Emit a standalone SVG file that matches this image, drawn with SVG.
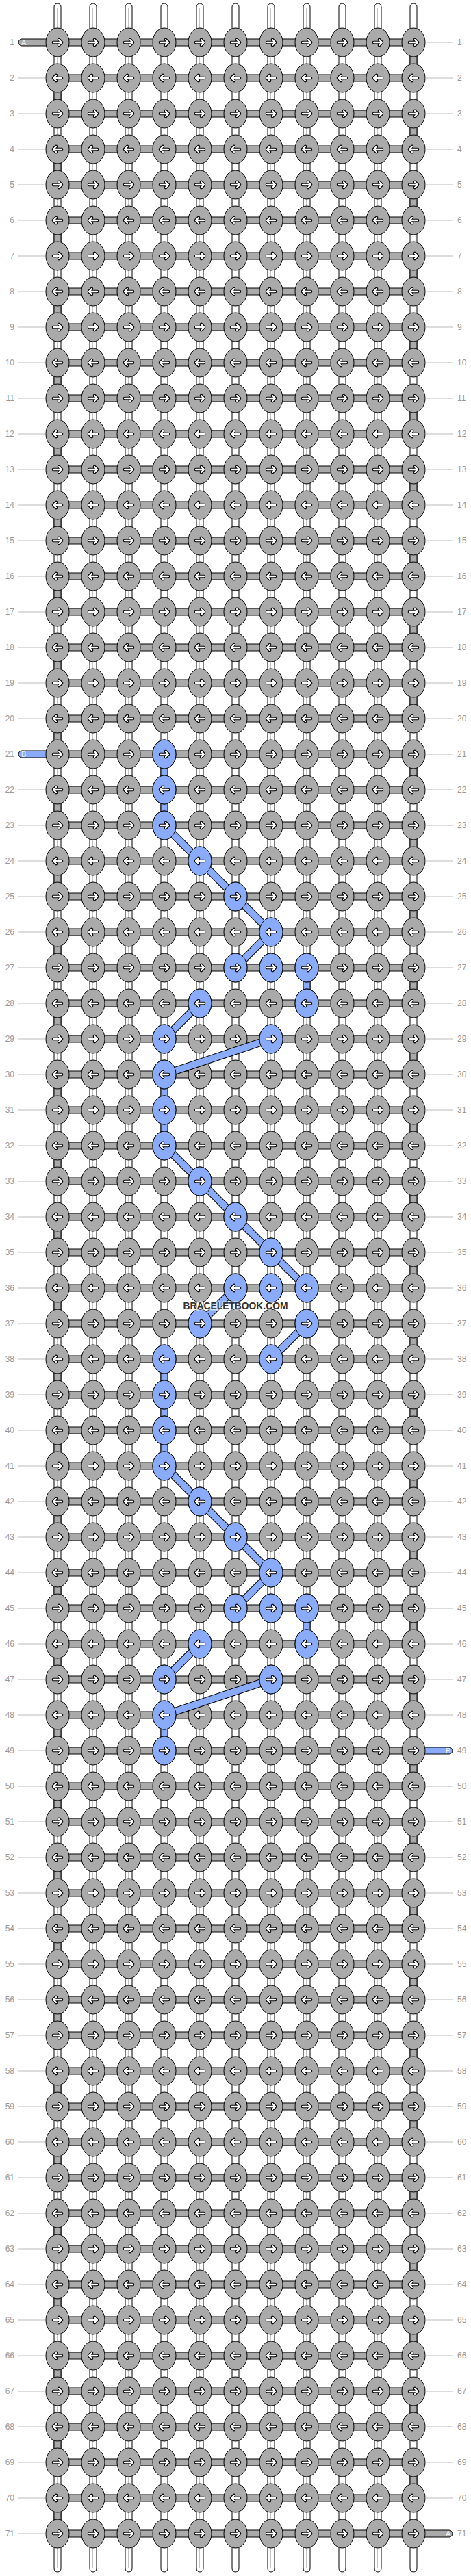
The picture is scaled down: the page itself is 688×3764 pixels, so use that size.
<svg xmlns="http://www.w3.org/2000/svg" width="688" height="3764" viewBox="0 0 688 3764">
<style>
.st{fill:#fff;stroke:#000;stroke-width:1}
.sl{fill:none;stroke:#c4c4c4;stroke-width:1}
.bar{fill:#aaa;stroke:#000;stroke-width:1}
.blu{fill:#8aabfa;stroke:#000;stroke-width:1}
text{font-family:"Liberation Sans",Arial,sans-serif}
.lab{font-size:12px;fill:#999}
.le{text-anchor:end}
.tl{fill:none;stroke:#bbb;stroke-width:1}
.ld{font-size:11px;fill:#f2f2f2}
</style>
<defs>
<g id="KR"><ellipse rx="17" ry="21" stroke="#000" stroke-width="1"/><path d="M-6 0H6M2-4L6 0L2 4" fill="none" stroke="#000" stroke-width="4.6" stroke-linecap="round" stroke-linejoin="round"/><path d="M-6 0H6M2-4L6 0L2 4" fill="none" stroke="#fff" stroke-width="2.3" stroke-linecap="round" stroke-linejoin="round"/></g>
<g id="KL"><ellipse rx="17" ry="21" stroke="#000" stroke-width="1"/><path d="M6 0H-6M-2-4L-6 0L-2 4" fill="none" stroke="#000" stroke-width="4.6" stroke-linecap="round" stroke-linejoin="round"/><path d="M6 0H-6M-2-4L-6 0L-2 4" fill="none" stroke="#fff" stroke-width="2.3" stroke-linecap="round" stroke-linejoin="round"/></g>
<g id="RR" fill="#aaa"><rect class="bar" x="84" y="-5" width="520" height="10"/><use href="#KR" x="84"/><use href="#KR" x="136"/><use href="#KR" x="188"/><use href="#KR" x="240"/><use href="#KR" x="292"/><use href="#KR" x="344"/><use href="#KR" x="396"/><use href="#KR" x="448"/><use href="#KR" x="500"/><use href="#KR" x="552"/><use href="#KR" x="604"/></g>
<g id="RL" fill="#aaa"><rect class="bar" x="84" y="-5" width="520" height="10"/><use href="#KL" x="84"/><use href="#KL" x="136"/><use href="#KL" x="188"/><use href="#KL" x="240"/><use href="#KL" x="292"/><use href="#KL" x="344"/><use href="#KL" x="396"/><use href="#KL" x="448"/><use href="#KL" x="500"/><use href="#KL" x="552"/><use href="#KL" x="604"/></g>
<path id="dg" d="M240 1206L292 1258M292 1258L344 1310M344 1310L396 1362M396 1362L344 1414M292 1466L240 1518M396 1518L240 1570M240 1674L292 1726M292 1726L344 1778M344 1778L396 1830M396 1830L448 1882M344 1882L292 1934M448 1934L396 1986M240 2142L292 2194M292 2194L344 2246M344 2246L396 2298M396 2298L344 2350M292 2402L240 2454M396 2454L240 2506" fill="none"/>
</defs>
<rect width="688" height="3764" fill="#fff"/>
<g id="strands">
<rect class="st" x="79" y="5" width="10" height="3753" rx="5"/>
<rect class="st" x="131" y="5" width="10" height="3753" rx="5"/>
<rect class="st" x="183" y="5" width="10" height="3753" rx="5"/>
<rect class="st" x="235" y="5" width="10" height="3753" rx="5"/>
<rect class="st" x="287" y="5" width="10" height="3753" rx="5"/>
<rect class="st" x="339" y="5" width="10" height="3753" rx="5"/>
<rect class="st" x="391" y="5" width="10" height="3753" rx="5"/>
<rect class="st" x="443" y="5" width="10" height="3753" rx="5"/>
<rect class="st" x="495" y="5" width="10" height="3753" rx="5"/>
<rect class="st" x="547" y="5" width="10" height="3753" rx="5"/>
<rect class="st" x="599" y="5" width="10" height="3753" rx="5"/>
<path class="sl" d="M83.5 11V3752M135.5 11V3752M187.5 11V3752M239.5 11V3752M291.5 11V3752M343.5 11V3752M395.5 11V3752M447.5 11V3752M499.5 11V3752M551.5 11V3752M603.5 11V3752"/>
</g>
<g id="connectors">
<path class="bar" d="M599 62h10v52h-10zM599 166h10v52h-10zM599 270h10v52h-10zM599 374h10v52h-10zM599 478h10v52h-10zM599 582h10v52h-10zM599 686h10v52h-10zM599 790h10v52h-10zM599 894h10v52h-10zM599 998h10v52h-10zM599 1102h10v52h-10zM599 1206h10v52h-10zM599 1310h10v52h-10zM599 1414h10v52h-10zM599 1518h10v52h-10zM599 1622h10v52h-10zM599 1726h10v52h-10zM599 1830h10v52h-10zM599 1934h10v52h-10zM599 2038h10v52h-10zM599 2142h10v52h-10zM599 2246h10v52h-10zM599 2350h10v52h-10zM599 2454h10v52h-10zM599 2558h10v52h-10zM599 2662h10v52h-10zM599 2766h10v52h-10zM599 2870h10v52h-10zM599 2974h10v52h-10zM599 3078h10v52h-10zM599 3182h10v52h-10zM599 3286h10v52h-10zM599 3390h10v52h-10zM599 3494h10v52h-10zM599 3598h10v52h-10zM79 114h10v52h-10zM79 218h10v52h-10zM79 322h10v52h-10zM79 426h10v52h-10zM79 530h10v52h-10zM79 634h10v52h-10zM79 738h10v52h-10zM79 842h10v52h-10zM79 946h10v52h-10zM79 1050h10v52h-10zM79 1154h10v52h-10zM79 1258h10v52h-10zM79 1362h10v52h-10zM79 1466h10v52h-10zM79 1570h10v52h-10zM79 1674h10v52h-10zM79 1778h10v52h-10zM79 1882h10v52h-10zM79 1986h10v52h-10zM79 2090h10v52h-10zM79 2194h10v52h-10zM79 2298h10v52h-10zM79 2402h10v52h-10zM79 2506h10v52h-10zM79 2610h10v52h-10zM79 2714h10v52h-10zM79 2818h10v52h-10zM79 2922h10v52h-10zM79 3026h10v52h-10zM79 3130h10v52h-10zM79 3234h10v52h-10zM79 3338h10v52h-10zM79 3442h10v52h-10zM79 3546h10v52h-10zM79 3650h10v52h-10z"/>
<path class="blu" d="M235 1102h10v52h-10zM235 1154h10v52h-10zM443 1414h10v52h-10zM235 1570h10v52h-10zM235 1622h10v52h-10zM235 1986h10v52h-10zM235 2038h10v52h-10zM235 2090h10v52h-10zM443 2350h10v52h-10zM235 2506h10v52h-10z"/>
<rect class="bar" x="27" y="57" width="62" height="10" rx="5"/>
<rect class="blu" x="27" y="1097" width="62" height="10" rx="5"/>
<rect class="blu" x="599" y="2553" width="62" height="10" rx="5"/>
<rect class="bar" x="599" y="3697" width="62" height="10" rx="5"/>
<text class="ld" x="31" y="66">A</text>
<text class="ld" x="31" y="1106">B</text>
<text class="ld" x="651" y="2562">B</text>
<text class="ld" x="651" y="3706">A</text>
</g>
<g id="knots">
<use id="row1" href="#RR" y="62"/><use id="row2" href="#RL" y="114"/><use id="row3" href="#RR" y="166"/><use id="row4" href="#RL" y="218"/><use id="row5" href="#RR" y="270"/><use id="row6" href="#RL" y="322"/><use id="row7" href="#RR" y="374"/><use id="row8" href="#RL" y="426"/><use id="row9" href="#RR" y="478"/><use id="row10" href="#RL" y="530"/>
<use id="row11" href="#RR" y="582"/><use id="row12" href="#RL" y="634"/><use id="row13" href="#RR" y="686"/><use id="row14" href="#RL" y="738"/><use id="row15" href="#RR" y="790"/><use id="row16" href="#RL" y="842"/><use id="row17" href="#RR" y="894"/><use id="row18" href="#RL" y="946"/><use id="row19" href="#RR" y="998"/><use id="row20" href="#RL" y="1050"/>
<use id="row21" href="#RR" y="1102"/><use id="row22" href="#RL" y="1154"/><use id="row23" href="#RR" y="1206"/><use id="row24" href="#RL" y="1258"/><use id="row25" href="#RR" y="1310"/><use id="row26" href="#RL" y="1362"/><use id="row27" href="#RR" y="1414"/><use id="row28" href="#RL" y="1466"/><use id="row29" href="#RR" y="1518"/><use id="row30" href="#RL" y="1570"/>
<use id="row31" href="#RR" y="1622"/><use id="row32" href="#RL" y="1674"/><use id="row33" href="#RR" y="1726"/><use id="row34" href="#RL" y="1778"/><use id="row35" href="#RR" y="1830"/><use id="row36" href="#RL" y="1882"/><use id="row37" href="#RR" y="1934"/><use id="row38" href="#RL" y="1986"/><use id="row39" href="#RR" y="2038"/><use id="row40" href="#RL" y="2090"/>
<use id="row41" href="#RR" y="2142"/><use id="row42" href="#RL" y="2194"/><use id="row43" href="#RR" y="2246"/><use id="row44" href="#RL" y="2298"/><use id="row45" href="#RR" y="2350"/><use id="row46" href="#RL" y="2402"/><use id="row47" href="#RR" y="2454"/><use id="row48" href="#RL" y="2506"/><use id="row49" href="#RR" y="2558"/><use id="row50" href="#RL" y="2610"/>
<use id="row51" href="#RR" y="2662"/><use id="row52" href="#RL" y="2714"/><use id="row53" href="#RR" y="2766"/><use id="row54" href="#RL" y="2818"/><use id="row55" href="#RR" y="2870"/><use id="row56" href="#RL" y="2922"/><use id="row57" href="#RR" y="2974"/><use id="row58" href="#RL" y="3026"/><use id="row59" href="#RR" y="3078"/><use id="row60" href="#RL" y="3130"/>
<use id="row61" href="#RR" y="3182"/><use id="row62" href="#RL" y="3234"/><use id="row63" href="#RR" y="3286"/><use id="row64" href="#RL" y="3338"/><use id="row65" href="#RR" y="3390"/><use id="row66" href="#RL" y="3442"/><use id="row67" href="#RR" y="3494"/><use id="row68" href="#RL" y="3546"/><use id="row69" href="#RR" y="3598"/><use id="row70" href="#RL" y="3650"/>
<use id="row71" href="#RR" y="3702"/>
</g>
<g id="diagonals">
<use href="#dg" stroke="#000" stroke-width="11.5"/>
<use href="#dg" stroke="#8aabfa" stroke-width="9.5"/>
</g>
<g id="blueknots" fill="#8aabfa">
<use id="k21_4" href="#KR" x="240" y="1102"/>
<use id="k22_4" href="#KL" x="240" y="1154"/>
<use id="k23_4" href="#KR" x="240" y="1206"/>
<use id="k24_5" href="#KL" x="292" y="1258"/>
<use id="k25_6" href="#KR" x="344" y="1310"/>
<use id="k26_7" href="#KL" x="396" y="1362"/>
<use id="k27_6" href="#KR" x="344" y="1414"/><use id="k27_7" href="#KR" x="396" y="1414"/><use id="k27_8" href="#KR" x="448" y="1414"/>
<use id="k28_5" href="#KL" x="292" y="1466"/><use id="k28_8" href="#KL" x="448" y="1466"/>
<use id="k29_4" href="#KR" x="240" y="1518"/><use id="k29_7" href="#KR" x="396" y="1518"/>
<use id="k30_4" href="#KL" x="240" y="1570"/>
<use id="k31_4" href="#KR" x="240" y="1622"/>
<use id="k32_4" href="#KL" x="240" y="1674"/>
<use id="k33_5" href="#KR" x="292" y="1726"/>
<use id="k34_6" href="#KL" x="344" y="1778"/>
<use id="k35_7" href="#KR" x="396" y="1830"/>
<use id="k36_6" href="#KL" x="344" y="1882"/><use id="k36_7" href="#KL" x="396" y="1882"/><use id="k36_8" href="#KL" x="448" y="1882"/>
<use id="k37_5" href="#KR" x="292" y="1934"/><use id="k37_8" href="#KR" x="448" y="1934"/>
<use id="k38_4" href="#KL" x="240" y="1986"/><use id="k38_7" href="#KL" x="396" y="1986"/>
<use id="k39_4" href="#KR" x="240" y="2038"/>
<use id="k40_4" href="#KL" x="240" y="2090"/>
<use id="k41_4" href="#KR" x="240" y="2142"/>
<use id="k42_5" href="#KL" x="292" y="2194"/>
<use id="k43_6" href="#KR" x="344" y="2246"/>
<use id="k44_7" href="#KL" x="396" y="2298"/>
<use id="k45_6" href="#KR" x="344" y="2350"/><use id="k45_7" href="#KR" x="396" y="2350"/><use id="k45_8" href="#KR" x="448" y="2350"/>
<use id="k46_5" href="#KL" x="292" y="2402"/><use id="k46_8" href="#KL" x="448" y="2402"/>
<use id="k47_4" href="#KR" x="240" y="2454"/><use id="k47_7" href="#KR" x="396" y="2454"/>
<use id="k48_4" href="#KL" x="240" y="2506"/>
<use id="k49_4" href="#KR" x="240" y="2558"/>
</g>
<g id="ticks">
<path class="tl" d="M26 114H66M26 166H66M26 218H66M26 270H66M26 322H66M26 374H66M26 426H66M26 478H66M26 530H66M26 582H66M26 634H66M26 686H66M26 738H66M26 790H66M26 842H66M26 894H66M26 946H66M26 998H66M26 1050H66M26 1154H66M26 1206H66M26 1258H66M26 1310H66M26 1362H66M26 1414H66M26 1466H66M26 1518H66M26 1570H66M26 1622H66M26 1674H66M26 1726H66M26 1778H66M26 1830H66M26 1882H66M26 1934H66M26 1986H66M26 2038H66M26 2090H66M26 2142H66M26 2194H66M26 2246H66M26 2298H66M26 2350H66M26 2402H66M26 2454H66M26 2506H66M26 2558H66M26 2610H66M26 2662H66M26 2714H66M26 2766H66M26 2818H66M26 2870H66M26 2922H66M26 2974H66M26 3026H66M26 3078H66M26 3130H66M26 3182H66M26 3234H66M26 3286H66M26 3338H66M26 3390H66M26 3442H66M26 3494H66M26 3546H66M26 3598H66M26 3650H66M26 3702H66"/>
<path class="tl" d="M621 62H662M621 114H662M621 166H662M621 218H662M621 270H662M621 322H662M621 374H662M621 426H662M621 478H662M621 530H662M621 582H662M621 634H662M621 686H662M621 738H662M621 790H662M621 842H662M621 894H662M621 946H662M621 998H662M621 1050H662M621 1102H662M621 1154H662M621 1206H662M621 1258H662M621 1310H662M621 1362H662M621 1414H662M621 1466H662M621 1518H662M621 1570H662M621 1622H662M621 1674H662M621 1726H662M621 1778H662M621 1830H662M621 1882H662M621 1934H662M621 1986H662M621 2038H662M621 2090H662M621 2142H662M621 2194H662M621 2246H662M621 2298H662M621 2350H662M621 2402H662M621 2454H662M621 2506H662M621 2610H662M621 2662H662M621 2714H662M621 2766H662M621 2818H662M621 2870H662M621 2922H662M621 2974H662M621 3026H662M621 3078H662M621 3130H662M621 3182H662M621 3234H662M621 3286H662M621 3338H662M621 3390H662M621 3442H662M621 3494H662M621 3546H662M621 3598H662M621 3650H662"/>
</g>
<g id="labels-left" class="lab le">
<text x="21" y="66">1</text><text x="21" y="118">2</text><text x="21" y="170">3</text><text x="21" y="222">4</text><text x="21" y="274">5</text><text x="21" y="326">6</text><text x="21" y="378">7</text><text x="21" y="430">8</text><text x="21" y="482">9</text><text x="21" y="534">10</text>
<text x="21" y="586">11</text><text x="21" y="638">12</text><text x="21" y="690">13</text><text x="21" y="742">14</text><text x="21" y="794">15</text><text x="21" y="846">16</text><text x="21" y="898">17</text><text x="21" y="950">18</text><text x="21" y="1002">19</text><text x="21" y="1054">20</text>
<text x="21" y="1106">21</text><text x="21" y="1158">22</text><text x="21" y="1210">23</text><text x="21" y="1262">24</text><text x="21" y="1314">25</text><text x="21" y="1366">26</text><text x="21" y="1418">27</text><text x="21" y="1470">28</text><text x="21" y="1522">29</text><text x="21" y="1574">30</text>
<text x="21" y="1626">31</text><text x="21" y="1678">32</text><text x="21" y="1730">33</text><text x="21" y="1782">34</text><text x="21" y="1834">35</text><text x="21" y="1886">36</text><text x="21" y="1938">37</text><text x="21" y="1990">38</text><text x="21" y="2042">39</text><text x="21" y="2094">40</text>
<text x="21" y="2146">41</text><text x="21" y="2198">42</text><text x="21" y="2250">43</text><text x="21" y="2302">44</text><text x="21" y="2354">45</text><text x="21" y="2406">46</text><text x="21" y="2458">47</text><text x="21" y="2510">48</text><text x="21" y="2562">49</text><text x="21" y="2614">50</text>
<text x="21" y="2666">51</text><text x="21" y="2718">52</text><text x="21" y="2770">53</text><text x="21" y="2822">54</text><text x="21" y="2874">55</text><text x="21" y="2926">56</text><text x="21" y="2978">57</text><text x="21" y="3030">58</text><text x="21" y="3082">59</text><text x="21" y="3134">60</text>
<text x="21" y="3186">61</text><text x="21" y="3238">62</text><text x="21" y="3290">63</text><text x="21" y="3342">64</text><text x="21" y="3394">65</text><text x="21" y="3446">66</text><text x="21" y="3498">67</text><text x="21" y="3550">68</text><text x="21" y="3602">69</text><text x="21" y="3654">70</text>
<text x="21" y="3706">71</text>
</g>
<g id="labels-right" class="lab">
<text x="668" y="66">1</text><text x="668" y="118">2</text><text x="668" y="170">3</text><text x="668" y="222">4</text><text x="668" y="274">5</text><text x="668" y="326">6</text><text x="668" y="378">7</text><text x="668" y="430">8</text><text x="668" y="482">9</text><text x="668" y="534">10</text>
<text x="668" y="586">11</text><text x="668" y="638">12</text><text x="668" y="690">13</text><text x="668" y="742">14</text><text x="668" y="794">15</text><text x="668" y="846">16</text><text x="668" y="898">17</text><text x="668" y="950">18</text><text x="668" y="1002">19</text><text x="668" y="1054">20</text>
<text x="668" y="1106">21</text><text x="668" y="1158">22</text><text x="668" y="1210">23</text><text x="668" y="1262">24</text><text x="668" y="1314">25</text><text x="668" y="1366">26</text><text x="668" y="1418">27</text><text x="668" y="1470">28</text><text x="668" y="1522">29</text><text x="668" y="1574">30</text>
<text x="668" y="1626">31</text><text x="668" y="1678">32</text><text x="668" y="1730">33</text><text x="668" y="1782">34</text><text x="668" y="1834">35</text><text x="668" y="1886">36</text><text x="668" y="1938">37</text><text x="668" y="1990">38</text><text x="668" y="2042">39</text><text x="668" y="2094">40</text>
<text x="668" y="2146">41</text><text x="668" y="2198">42</text><text x="668" y="2250">43</text><text x="668" y="2302">44</text><text x="668" y="2354">45</text><text x="668" y="2406">46</text><text x="668" y="2458">47</text><text x="668" y="2510">48</text><text x="668" y="2562">49</text><text x="668" y="2614">50</text>
<text x="668" y="2666">51</text><text x="668" y="2718">52</text><text x="668" y="2770">53</text><text x="668" y="2822">54</text><text x="668" y="2874">55</text><text x="668" y="2926">56</text><text x="668" y="2978">57</text><text x="668" y="3030">58</text><text x="668" y="3082">59</text><text x="668" y="3134">60</text>
<text x="668" y="3186">61</text><text x="668" y="3238">62</text><text x="668" y="3290">63</text><text x="668" y="3342">64</text><text x="668" y="3394">65</text><text x="668" y="3446">66</text><text x="668" y="3498">67</text><text x="668" y="3550">68</text><text x="668" y="3602">69</text><text x="668" y="3654">70</text>
<text x="668" y="3706">71</text>
</g>
<text id="watermark" x="344" y="1913" text-anchor="middle" font-family="'Liberation Sans',Arial,sans-serif" font-size="15.5" font-weight="bold" fill="#333" stroke="#fff" stroke-opacity="0.6" stroke-width="3" paint-order="stroke" textLength="153" lengthAdjust="spacingAndGlyphs">BRACELETBOOK.COM</text>
</svg>
